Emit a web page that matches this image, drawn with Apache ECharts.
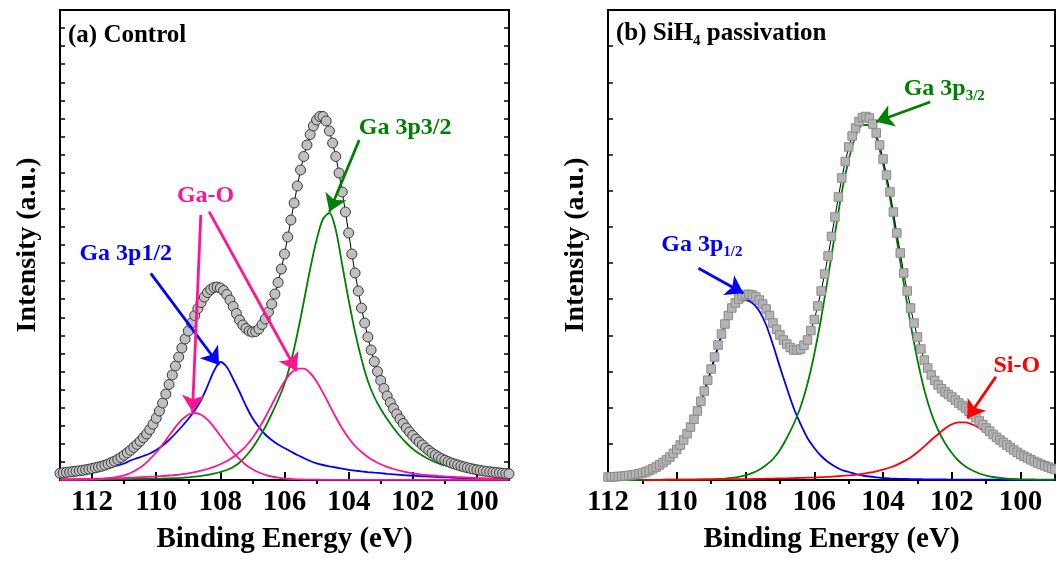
<!DOCTYPE html>
<html>
<head>
<meta charset="utf-8">
<script src="https://cdn.jsdelivr.net/npm/echarts@6/dist/echarts.min.js"></script>
<style>
  html, body { margin: 0; padding: 0; background: #fff; }
  #main { width: 1056px; height: 563px; }
</style>
</head>
<body>
<div id="main"></div>
<script>
// (a) Control: measured points, 0.1 eV steps from 113.0 eV down to 99.0 eV
const controlData = [
  6.8, 7.2, 7.6, 8.0, 8.4, 8.8, 9.2, 9.7, 10.2, 10.8,
  11.5, 12.2, 13.0, 13.8, 14.8, 16.0, 17.3, 18.8, 20.5, 22.5,
  24.8, 27.2, 29.8, 32.6, 35.6, 38.8, 42.3, 46, 50.5, 55.8,
  61.8, 69, 77, 86, 95.5, 105, 114, 123, 132, 141,
  149, 157, 164.5, 171.5, 177.5, 183, 187.5, 190.5, 192.5, 193,
  192, 189.5, 185.5, 180, 173.5, 166.5, 160, 155, 151.5, 149,
  148, 148.5, 151, 155.5, 161, 168, 176, 186, 197.5, 211,
  226, 243, 260, 277, 294, 310, 323.5, 335, 345.5, 354,
  360, 363.5, 363.5, 359, 349, 337, 323.5, 307, 288, 268,
  247, 226, 207, 189, 172, 157, 143, 130, 118.5, 108.5,
  99.5, 91.5, 84, 77.5, 71.5, 66, 61, 56.5, 52, 48,
  44.5, 41, 38, 35, 32, 29.5, 27, 25, 23, 21.3,
  19.8, 18.4, 17.1, 16, 15, 14, 13.1, 12.3, 11.5, 10.8,
  10.2, 9.6, 9.1, 8.6, 8.2, 7.8, 7.4, 7.1, 6.8, 6.5,
  6.2
];
// (a) fitted peaks, 0.2 eV steps from 113.0 eV down to 99.0 eV
const controlGa32 = [
  0.3, 0.3, 0.3, 0.4, 0.4, 0.5, 0.5, 0.6, 0.7, 0.8,
  0.9, 1.0, 1.1, 1.2, 1.3, 1.4, 1.5, 1.7, 1.9, 2.2,
  2.7, 3.3, 4.1, 5.1, 6.4, 8.0, 10.0, 13, 17.5, 24,
  32, 42, 53, 66, 80, 96, 118, 146, 178, 211,
  240, 261, 267, 250, 215, 180, 148, 121, 99, 83,
  71, 61, 52, 44, 37, 31, 26.5, 22.5, 19.3, 16.7,
  14.5, 12.7, 11.1, 9.7, 8.4, 7.2, 6.1, 5.1, 4.2, 3.4,
  2.7
];
const controlGa12 = [
  5.8, 6.4, 7.0, 7.7, 8.4, 9.2, 10.2, 11.3, 12.8, 14.5,
  16.5, 19.5, 21.8, 24, 26.5, 30, 34.5, 40, 46.5, 53.5,
  61, 69.5, 80, 94, 109, 118, 113, 101, 88, 74,
  62, 53, 45.5, 40, 35.5, 32, 28.5, 25, 22, 19,
  16.7, 15, 13.7, 12.5, 11.3, 10.2, 9.4, 8.6, 7.9, 7.3,
  6.8, 6.2, 5.7, 5.2, 4.7, 4.3, 3.9, 3.6, 3.3, 3.0,
  2.7, 2.4, 2.1, 1.8, 1.6, 1.4, 1.2, 1.0, 0.9, 0.8,
  0.7
];
const controlGaOHigh = [
  0.1, 0.1, 0.2, 0.3, 0.4, 0.6, 0.9, 1.3, 2.0, 3.1,
  4.7, 7.0, 10.4, 14.7, 20.8, 27.5, 35.5, 44.2, 52.9, 60.3,
  65.3, 67, 65.3, 60.3, 52.9, 44.2, 35.5, 27.5, 20.8, 15,
  10.8, 7.5, 5.2, 3.5, 2.3, 1.5, 1.0, 0.7, 0.5, 0.4,
  0.3, 0.2, 0.2, 0.1, 0.1, 0.1, 0.1, 0.1, 0.1, 0.1,
  0.1, 0.1, 0.1, 0.1, 0.1, 0.1, 0.1, 0.1, 0.1, 0.1,
  0.1, 0.1, 0.1, 0.1, 0.1, 0.1, 0.1, 0.1, 0.1, 0.1,
  0.1
];
const controlGaOLow = [
  0.8, 0.9, 1.0, 1.05, 1.1, 1.2, 1.35, 1.5, 1.6, 1.8,
  2.0, 2.3, 2.6, 2.9, 3.3, 3.6, 4.0, 4.5, 5.0, 5.8,
  6.7, 7.8, 9.3, 11, 13.1, 15.7, 19, 23, 28, 34,
  42, 51.5, 62.7, 75, 87.4, 98.6, 107, 111.4, 111.4, 107,
  98.6, 87.4, 75, 62.7, 51.5, 42, 34, 28, 23, 19,
  15.7, 13.1, 11, 9.3, 7.8, 6.7, 5.8, 5.0, 4.5, 4.0,
  3.6, 3.3, 2.9, 2.6, 2.3, 2.0, 1.8, 1.6, 1.5, 1.35,
  1.2
];

// (b) SiH4 passivation: measured points, 0.1 eV steps from 112.0 eV down to 99.0 eV
const sihData = [
  3, 3.1, 3.3, 3.5, 3.8, 4.1, 4.5, 5.0, 5.5, 6.2,
  7, 8.1, 9.5, 11.1, 13, 15.1, 17.5, 20.1, 23, 26.6,
  30.5, 35, 40, 46.3, 53, 60.8, 69, 78.8, 89, 99.8,
  111, 123, 135, 146, 156, 164.5, 172, 177, 181, 184,
  185.5, 185.7, 185, 183, 180, 176, 171, 164.5, 157, 150.7,
  145, 140, 136, 132.5, 130, 130, 131, 134.8, 140, 149.5,
  160.5, 174, 189, 206, 224, 243.5, 263, 283, 302, 318.5,
  333, 344, 352, 358.5, 362.5, 363.5, 362, 356, 347, 335,
  321, 305, 288, 268, 247, 227, 207, 189, 172, 157,
  143, 131, 120, 112, 105, 99.5, 95, 91.3, 88, 85.5,
  83, 80, 77, 74.5, 72, 68.8, 65.5, 62.3, 59, 55.5,
  52, 48.8, 45.5, 42.7, 40, 37.5, 35, 32.5, 30, 27.7,
  25.5, 23.7, 22, 20.2, 18.5, 17, 15.5, 14.2, 13, 11.7,
  10.5
];
// (b) fitted peaks, 0.2 eV steps from 112.0 eV down to 99.0 eV
const sihGa32 = [
  0, 0, 0, 0, 0, 0.1, 0.1, 0.2, 0.2, 0.3,
  0.3, 0.4, 0.4, 0.5, 0.6, 0.7, 1.0, 1.4, 2.1, 3.2,
  4.6, 7.1, 10.3, 15, 21, 30, 42, 56, 73, 96,
  126, 162, 203, 246, 288, 320, 344, 355, 355, 342,
  316, 282, 240, 197, 156, 120, 90, 67, 50, 37,
  27, 19, 13.5, 9.5, 6.5, 4.4, 3.0, 2.0, 1.4, 1.0,
  0.7, 0.6, 0.5, 0.4, 0.4, 0.3
];
const sihGa12 = [
  1.8, 2.3, 3.0, 3.8, 5.0, 6.5, 9.0, 12.5, 17, 22.5,
  30, 39, 52, 68, 88, 110, 133, 154, 169, 177,
  180, 177, 169, 155, 135, 113, 92, 72, 56, 42,
  32, 24, 18, 13.5, 10, 8, 6, 4.5, 3.5, 2.7,
  2.0, 1.6, 1.3, 1.1, 0.9, 0.8, 0.7, 0.6, 0.5, 0.5,
  0.4, 0.4, 0.4, 0.3, 0.3, 0.3, 0.3, 0.3, 0.2, 0.2,
  0.2, 0.2, 0.2, 0.2, 0.2, 0.2
];
const sihSiO = [
  null, null, null, null, null, 0.15, 0.2, 0.2, 0.25, 0.3,
  0.3, 0.35, 0.4, 0.45, 0.5, 0.55, 0.6, 0.65, 0.7, 0.8,
  0.9, 1.0, 1.1, 1.3, 1.4, 1.6, 1.7, 1.9, 2.1, 2.3,
  2.5, 2.8, 3.1, 3.6, 4.1, 4.6, 5.2, 6.1, 7.3, 8.7,
  10.4, 12.5, 15.1, 18.6, 22.6, 27.8, 33.6, 40, 45.8, 51.6,
  55.7, 57.7, 57.7, 55.5, 52, 47, 42, 37.5, 33, 28.5,
  24, 20.5, 17, 14, 11.5, 9
];

const majorTicks = [100, 102, 104, 106, 108, 110, 112];
const minorTicks = [101, 103, 105, 107, 109, 111];

const font = 'Liberation Serif';
const pink = '#ff1493';
const blue = '#0000ff';
const green = '#008000';
const red = '#ff0000';

// pair each value with its binding energy on the measuring grid
const withEnergy = (start, step, values) =>
  values.map((v, i) => [Math.round((start - i * step) * 10) / 10, v]);

const dom = echarts.init(document.getElementById('main'));

const bold = (size, color) => ({ color: color || '#000', fontFamily: font, fontWeight: 'bold', fontSize: size });

const xAxes = (gridIndex, min, max) => [
  {
    gridIndex, type: 'value', min, max, inverse: true,
    axisLine: { show: false }, splitLine: { show: false },
    axisTick: { inside: true, length: 8, lineStyle: { color: '#000', width: 2 }, customValues: majorTicks },
    axisLabel: Object.assign({ customValues: majorTicks, margin: 8 }, bold(29)),
    name: 'Binding Energy (eV)', nameLocation: 'middle', nameGap: 45,
    nameTextStyle: bold(29)
  },
  {
    gridIndex, type: 'value', min, max, inverse: true,
    axisLine: { show: false }, splitLine: { show: false }, axisLabel: { show: false },
    axisTick: { inside: true, length: 4, lineStyle: { color: '#000', width: 2 }, customValues: minorTicks }
  }
];

const yAxes = (gridIndex, interval) => {
  const base = {
    gridIndex, type: 'value', min: 0, max: 470, interval,
    axisLine: { show: false }, splitLine: { show: false }, axisLabel: { show: false },
    axisTick: { inside: true, length: 5, lineStyle: { color: '#000', width: 1.5 } }
  };
  return [
    Object.assign({}, base, {
      position: 'left', name: 'Intensity (a.u.)', nameLocation: 'middle', nameGap: 18,
      nameTextStyle: bold(28)
    }),
    Object.assign({}, base, { position: 'right' })
  ];
};

const fitLine = (axis, start, values, color) => ({
  type: 'line', xAxisIndex: axis.x, yAxisIndex: axis.y,
  data: withEnergy(start, 0.2, values),
  symbol: 'none', smooth: 0.3, silent: true, z: 2,
  lineStyle: { color, width: 1.8 }
});

const arrow = (from, to, color) => [
  { coord: from, lineStyle: { color, width: 2.8, type: 'solid' } },
  { coord: to }
];

const tag = (coord, formatter, color) => ({
  coord, symbol: 'circle', symbolSize: 1, itemStyle: { color: 'rgba(0,0,0,0)' },
  label: {
    show: true, position: 'inside', formatter,
    color, fontFamily: font, fontWeight: 'bold', fontSize: 24,
    rich: {
      m: bold(24, color),
      s: Object.assign(bold(15, color), { padding: [14, 0, 0, 0] })
    }
  }
});

const notes = (axis, arrows, tags) => ({
  type: 'line', xAxisIndex: axis.x, yAxisIndex: axis.y, data: [], z: 6,
  markLine: {
    silent: true, animation: false, symbol: ['none', 'arrow'], symbolSize: 17,
    label: { show: false }, data: arrows
  },
  markPoint: { silent: true, animation: false, data: tags }
});

const A = { x: 0, y: 0 };
const B = { x: 2, y: 2 };

dom.setOption({
  animation: false,
  backgroundColor: '#fff',
  title: [
    {
      text: '(a) Control', left: 68, top: 21, padding: 0,
      textStyle: Object.assign(bold(25), { lineHeight: 30 })
    },
    {
      text: '{m|(b) SiH}{s|4}{m| passivation}', left: 616, top: 19, padding: 0,
      textStyle: Object.assign(bold(25), {
        lineHeight: 30,
        rich: { m: bold(25), s: Object.assign(bold(15), { padding: [14, 0, 0, 0] }) }
      })
    }
  ],
  grid: [
    { left: 60, top: 10, width: 449, height: 470, show: true, borderColor: '#000', borderWidth: 2 },
    { left: 608, top: 10, width: 447, height: 470, show: true, borderColor: '#000', borderWidth: 2 }
  ],
  xAxis: [...xAxes(0, 99, 113), ...xAxes(1, 99, 112)],
  yAxis: [...yAxes(0, 470 / 26), ...yAxes(1, 470 / 13)],
  series: [
    fitLine(A, 113, controlGa12, blue),
    fitLine(A, 113, controlGa32, green),
    fitLine(A, 113, controlGaOHigh, pink),
    fitLine(A, 113, controlGaOLow, pink),
    {
      type: 'line', xAxisIndex: 0, yAxisIndex: 0, z: 3, silent: true,
      data: withEnergy(113, 0.1, controlData),
      symbol: 'circle', symbolSize: 10, showAllSymbol: true,
      itemStyle: { color: '#c0c0c0', borderColor: '#3a3a3a', borderWidth: 1 },
      lineStyle: { color: '#000', width: 1 }
    },
    notes(A, [
      arrow([110.17, 206.7], [108.04, 115], blue),
      arrow([108.61, 265], [108.87, 68], pink),
      arrow([108.35, 268.3], [105.62, 109], pink),
      arrow([103.67, 340], [104.6, 268.3], green)
    ], [
      tag([108.46, 284], 'Ga-O', pink),
      tag([110.95, 226], 'Ga 3p1/2', blue),
      tag([102.24, 352.5], 'Ga 3p3/2', green)
    ]),

    fitLine(B, 112, sihGa12, blue),
    fitLine(B, 112, sihGa32, green),
    fitLine(B, 112, sihSiO, red),
    {
      type: 'line', xAxisIndex: 2, yAxisIndex: 2, z: 3, silent: true,
      data: withEnergy(112, 0.1, sihData),
      symbol: 'rect', symbolSize: 8.5, showAllSymbol: true,
      itemStyle: { color: '#b4b4b4', borderColor: '#8a8a8a', borderWidth: 1 },
      lineStyle: { color: '#000', width: 1 }
    },
    notes(B, [
      arrow([102.63, 378], [104.2, 358.3], green),
      arrow([109.37, 211.7], [108.06, 186.7], blue),
      arrow([100.72, 103.3], [101.55, 61.7], red)
    ], [
      tag([102.22, 391], '{m|Ga 3p}{s|3/2}', green),
      tag([109.27, 235], '{m|Ga 3p}{s|1/2}', blue),
      tag([100.11, 114], 'Si-O', red)
    ])
  ]
});
</script>
</body>
</html>
